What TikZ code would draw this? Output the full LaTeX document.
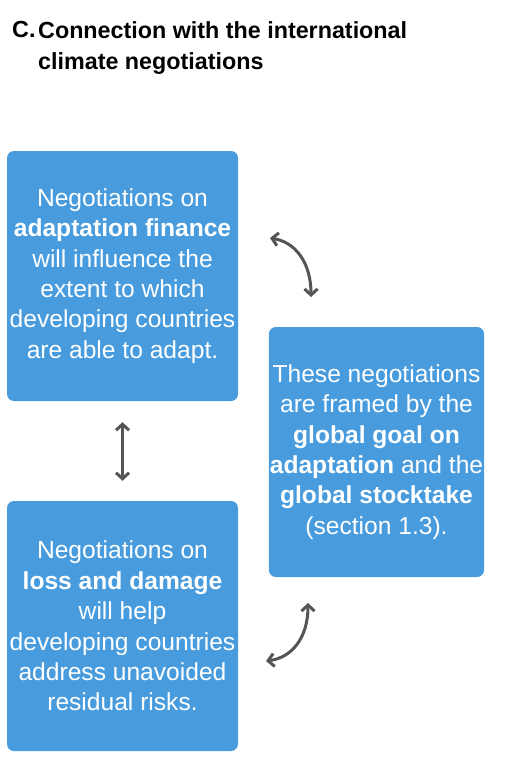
\documentclass[tikz,border=0pt]{standalone}
\usepackage{fontspec}
\setmainfont{Liberation Sans}
\usetikzlibrary{arrows.meta}
\definecolor{boxblue}{RGB}{72,156,221}
\definecolor{arrowgray}{RGB}{85,85,85}
\tikzset{
	panel/.style={fill=boxblue, rounded corners=7pt, minimum height=250pt, inner sep=1pt,
		text=white, align=center, font=\fontsize{24.6}{30.4}\selectfont},
	twoway/.style={arrowgray, line width=3pt,
		{Straight Barb[length=6pt, width=13pt]}-{Straight Barb[length=6pt, width=13pt]}},
	heading/.style={font=\fontsize{23.3}{31}\selectfont\bfseries, inner sep=0pt}
}

\begin{document}
\begin{tikzpicture}[x=1pt, y=-1pt]
	\useasboundingbox (0,0) rectangle (522,784);
	\node[heading, anchor=north west] (lbl) at (12,21) {C.};
	\node[heading, anchor=north west, align=left] (ttl) at (38,21) {Connection with the international\\climate negotiations};
	% the three panels
	\node[panel, minimum width=231pt] (fin) at (122.5,276) {Negotiations on\\\textbf{adaptation finance}\\will influence the\\extent to which\\developing countries\\are able to adapt.};
	\node[panel, minimum width=215pt] (frame) at (376.5,452) {These negotiations\\are framed by the\\\textbf{global goal on}\\\textbf{adaptation} and the\\\textbf{global stocktake}\\(section 1.3).};
	\node[panel, minimum width=231pt] (loss) at (122.5,626) {Negotiations on\\\textbf{loss and damage}\\will help\\developing countries\\address unavoided\\residual risks.};
	% links
	\coordinate (up1) at (270,238);
	\coordinate (up2) at (311,297);
	\coordinate (lo1) at (308,603);
	\coordinate (lo2) at (266,661);
	\draw[twoway] (up1) .. controls (295,242) and (311,262) .. (up2);
	\draw[twoway, shorten <=21pt, shorten >=20pt] (fin.south) -- (loss.north);
	\draw[twoway] (lo1) .. controls (308,640) and (290,658) .. (lo2);
\end{tikzpicture}
\end{document}
